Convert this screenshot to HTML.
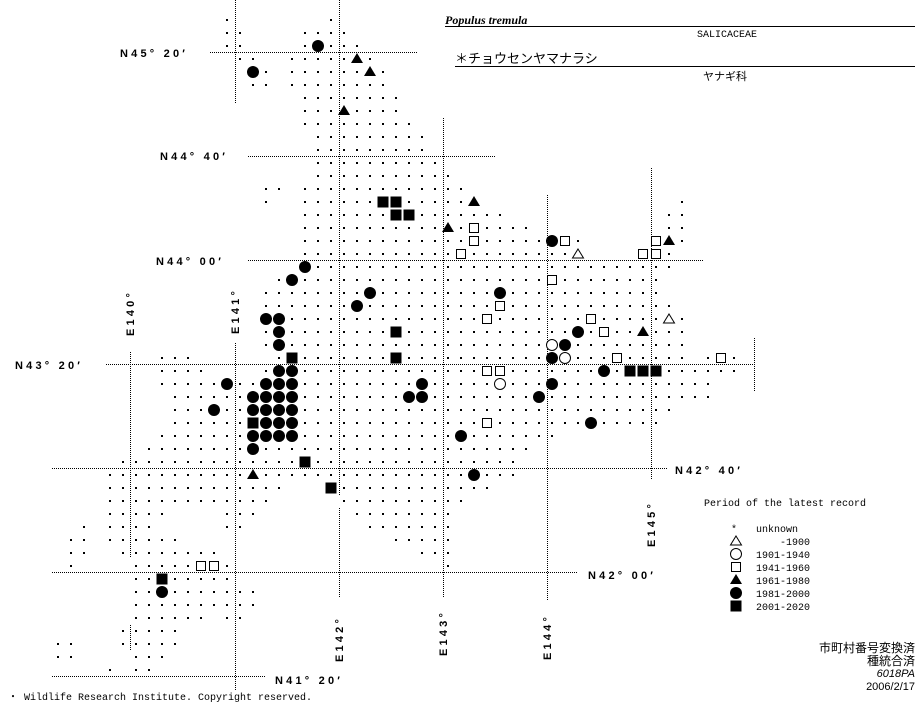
<!DOCTYPE html>
<html><head><meta charset="utf-8"><style>
html,body{margin:0;padding:0;background:#fff;}
svg{display:block}
.lab{font-family:"Liberation Sans",sans-serif;font-weight:bold;font-size:11px;letter-spacing:3.2px;fill:#000}
.t{font-family:"Liberation Mono","Noto Sans CJK JP",monospace;font-size:10px;fill:#000}
</style></head><body>
<svg id="s" width="923" height="703" viewBox="0 0 923 703" xmlns="http://www.w3.org/2000/svg">
<g stroke="#000" stroke-width="1" stroke-dasharray="1 1" fill="none">
<line x1="210" y1="52.5" x2="417" y2="52.5"/>
<line x1="248" y1="156.5" x2="495" y2="156.5"/>
<line x1="248" y1="260.5" x2="703" y2="260.5"/>
<line x1="106" y1="364.5" x2="754" y2="364.5"/>
<line x1="52" y1="468.5" x2="668" y2="468.5"/>
<line x1="52" y1="572.5" x2="578" y2="572.5"/>
<line x1="52" y1="676.5" x2="265" y2="676.5"/>
<line x1="235.5" y1="0" x2="235.5" y2="104"/>
<line x1="235.5" y1="343" x2="235.5" y2="690"/>
<line x1="130.5" y1="352" x2="130.5" y2="558"/>
<line x1="130.5" y1="625" x2="130.5" y2="650"/>
<line x1="339.5" y1="0" x2="339.5" y2="495"/>
<line x1="339.5" y1="508" x2="339.5" y2="598"/>
<line x1="443.5" y1="118" x2="443.5" y2="598"/>
<line x1="547.5" y1="195" x2="547.5" y2="600"/>
<line x1="651.5" y1="168" x2="651.5" y2="480"/>
<line x1="754.5" y1="338" x2="754.5" y2="392"/>
</g>
<g id="dots" fill="#000"></g>
<g id="mk"></g>
<text class="lab" x="120" y="57">N45° 20′</text>
<text class="lab" x="160" y="160">N44° 40′</text>
<text class="lab" x="156" y="265">N44° 00′</text>
<text class="lab" x="15" y="369">N43° 20′</text>
<text class="lab" x="675" y="474">N42° 40′</text>
<text class="lab" x="588" y="579">N42° 00′</text>
<text class="lab" x="275" y="684">N41° 20′</text>
<text class="lab" transform="translate(134,336) rotate(-90)">E140°</text>
<text class="lab" transform="translate(239,334) rotate(-90)">E141°</text>
<text class="lab" transform="translate(343,662) rotate(-90)">E142°</text>
<text class="lab" transform="translate(447,656) rotate(-90)">E143°</text>
<text class="lab" transform="translate(551,660) rotate(-90)">E144°</text>
<text class="lab" transform="translate(655,547) rotate(-90)">E145°</text>
<text x="445" y="24" font-family="Liberation Serif,serif" font-style="italic" font-weight="bold" font-size="12">Populus tremula</text>
<line x1="445" y1="26.5" x2="915" y2="26.5" stroke="#000"/>
<text class="t" x="697" y="37">SALICACEAE</text>
<text x="455" y="63" font-family="Liberation Sans,Noto Sans CJK JP,sans-serif" font-size="13">＊チョウセンヤマナラシ</text>
<line x1="455" y1="66.5" x2="915" y2="66.5" stroke="#000"/>
<text x="703" y="80" font-family="Liberation Sans,Noto Sans CJK JP,sans-serif" font-size="11">ヤナギ科</text>
<text class="t" x="704" y="506">Period of the latest record</text>
<text class="t" x="731" y="532">*</text>
<text class="t" x="756" y="532">unknown</text>
<text class="t" x="780" y="545">-1900</text>
<text class="t" x="756" y="558">1901-1940</text>
<text class="t" x="756" y="571">1941-1960</text>
<text class="t" x="756" y="584">1961-1980</text>
<text class="t" x="756" y="597">1981-2000</text>
<text class="t" x="756" y="610">2001-2020</text>
<g font-family="Liberation Sans,Noto Sans CJK JP,sans-serif" font-size="12" text-anchor="end">
<text x="915" y="652">市町村番号変換済</text>
<text x="915" y="665">種統合済</text>
<text x="915" y="677" font-style="italic" font-size="11">6018PA</text>
<text x="915" y="690" font-size="11">2006/2/17</text>
</g>
<text class="t" x="8" y="700">・ Wildlife Research Institute. Copyright reserved.</text>
</svg>
<script>
var rows={20:[[227],[331]],33:[[227,240],[305,344]],46:[[227,240],[305,357]],59:[[240,253],[292,370]],72:[[253,266],[292,383]],85:[[253,266],[292,383]],98:[[305,396]],111:[[305,396]],124:[[305,409]],137:[[318,422]],150:[[318,422]],163:[[318,435]],176:[[318,448]],189:[[266,279],[305,461]],202:[[266],[305,474],[682]],215:[[305,500],[669,682]],228:[[305,526],[669,682]],241:[[305,578],[656,682]],254:[[305,578],[643,669]],267:[[305,669]],280:[[279,656]],293:[[266,656]],306:[[266,669]],319:[[266,682]],332:[[266,682]],345:[[266,682]],358:[[162,188],[279,682],[708,734]],371:[[162,201],[266,734]],384:[[162,708]],397:[[175,708]],410:[[175,669]],423:[[175,656]],436:[[162,552]],449:[[149,526]],462:[[123,513]],475:[[110,513]],488:[[110,279],[331,487]],501:[[110,266],[344,461]],514:[[110,162],[227,253],[357,448]],527:[[84],[110,149],[227,240],[370,448]],540:[[71,84],[110,175],[396,448]],553:[[71,84],[123,214],[422,448]],566:[[71],[136,227],[448]],579:[[136,227]],592:[[136,253]],605:[[136,253]],618:[[136,201],[227,240]],631:[[123,175]],644:[[58,71],[123,175]],657:[[58,71],[136,162]],670:[[110],[136,149]]};
var M={
fc:[[318,46],[253,72],[305,267],[292,280],[370,293],[357,306],[266,319],[279,319],[279,332],[279,345],[500,293],[552,241],[578,332],[565,345],[552,358],[604,371],[279,371],[292,371],[227,384],[266,384],[279,384],[292,384],[422,384],[253,397],[266,397],[279,397],[292,397],[409,397],[422,397],[214,410],[253,410],[266,410],[279,410],[292,410],[266,423],[279,423],[292,423],[253,436],[266,436],[279,436],[292,436],[253,449],[591,423],[461,436],[474,475],[552,384],[539,397],[162,592]],
fs:[[383,202],[396,202],[396,215],[409,215],[396,332],[292,358],[396,358],[253,423],[305,462],[331,488],[162,579],[630,371],[643,371],[656,371]],
os:[[474,228],[474,241],[461,254],[565,241],[643,254],[656,254],[656,241],[500,306],[552,280],[487,319],[591,319],[604,332],[617,358],[721,358],[487,371],[500,371],[487,423],[201,566],[214,566]],
ft:[[357,59],[370,72],[344,111],[474,202],[448,228],[669,241],[643,332],[253,475]],
ot:[[578,254],[669,319]],
oc:[[552,345],[565,358],[500,384]]};
var occ={};for(var k in M)M[k].forEach(function(p){occ[p[0]+','+p[1]]=1});
var d='';
for(var y in rows){rows[y].forEach(function(r){var a=r[0],b=r.length>1?r[1]:r[0];for(var x=a;x<=b;x+=13){if(!occ[x+','+y])d+='<rect x="'+(x-1)+'" y="'+(y-1)+'" width="2" height="2"/>';}});}
var m='';
function sym(k,x,y){
 if(k=='fc')return '<circle cx="'+x+'" cy="'+y+'" r="6" fill="#000"/>';
 if(k=='oc')return '<circle cx="'+x+'" cy="'+y+'" r="5.5" fill="#fff" stroke="#000"/>';
 if(k=='fs')return '<rect x="'+(x-5.5)+'" y="'+(y-5.5)+'" width="11" height="11" fill="#000"/>';
 if(k=='os')return '<rect x="'+(x-4.5)+'" y="'+(y-4.5)+'" width="9" height="9" fill="#fff" stroke="#000"/>';
 if(k=='ft')return '<polygon points="'+x+','+(y-6)+' '+(x+6)+','+(y+4)+' '+(x-6)+','+(y+4)+'" fill="#000"/>';
 if(k=='ot')return '<polygon points="'+x+','+(y-5)+' '+(x+5.5)+','+(y+4)+' '+(x-5.5)+','+(y+4)+'" fill="#fff" stroke="#000"/>';
}
for(var k in M)M[k].forEach(function(p){m+=sym(k,p[0],p[1])});
m+=sym('ot',736,541)+sym('oc',736,554)+sym('os',736,567)+sym('ft',736,580)+sym('fc',736,593)+sym('fs',736,606);
document.getElementById('dots').innerHTML=d;
document.getElementById('mk').innerHTML=m;
</script>
</body></html>
